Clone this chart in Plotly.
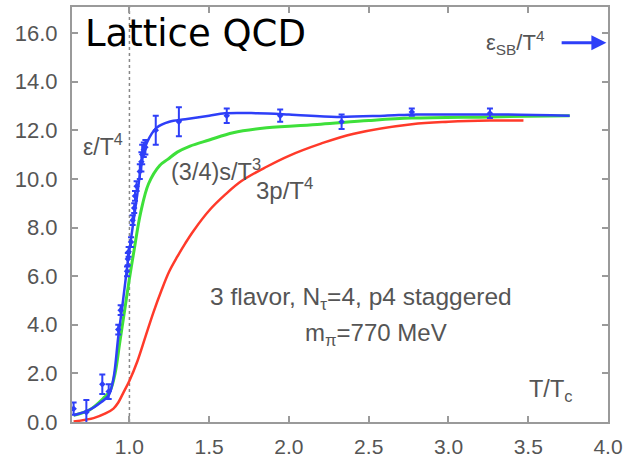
import plotly.graph_objects as go

# epsilon/T^4 data points with errors
eps_x = [0.65, 0.73, 0.83, 0.87, 0.93, 0.945, 0.985, 0.99, 0.995, 1.01, 1.02, 1.03, 1.035,
         1.045, 1.065, 1.075, 1.08, 1.09, 1.10, 1.165, 1.31, 1.61, 1.945, 2.33, 2.77, 3.26]
eps_y = [0.55, 0.40, 1.55, 1.25, 3.8, 4.6, 6.2, 6.7, 7.0, 7.4, 8.3, 8.8, 9.3,
         9.7, 10.3, 10.7, 11.0, 11.2, 11.3, 12.0, 12.35, 12.6, 12.6, 12.35, 12.75, 12.7]
eps_err = [0.25, 0.50, 0.40, 0.30, 0.2, 0.2, 0.2, 0.25, 0.2, 0.2, 0.2, 0.2, 0.2,
           0.2, 0.3, 0.4, 0.4, 0.3, 0.3, 0.6, 0.6, 0.3, 0.25, 0.3, 0.15, 0.2]

# epsilon/T^4 interpolating curve
eps_line_x = [0.65, 0.75, 0.82, 0.87, 0.90, 0.93, 0.96, 0.99, 1.02, 1.05, 1.08, 1.11, 1.17,
              1.25, 1.35, 1.5, 1.6, 1.8, 2.0, 2.3, 2.6, 2.8, 3.0, 3.3, 3.76]
eps_line_y = [0.28, 0.5, 0.8, 1.1, 1.8, 3.5, 5.0, 6.6, 8.0, 9.4, 10.8, 11.5, 12.1,
              12.35, 12.45, 12.6, 12.7, 12.7, 12.65, 12.55, 12.6, 12.65, 12.65, 12.65, 12.6]

# (3/4) s/T^3
s_x = [0.65, 0.75, 0.84, 0.88, 0.91, 0.94, 0.97, 1.0, 1.03, 1.07, 1.12, 1.19, 1.24, 1.3,
       1.38, 1.5, 1.65, 1.86, 2.2, 2.5, 2.77, 3.26, 3.76]
s_y = [0.28, 0.5, 1.0, 1.3, 2.0, 3.3, 4.6, 5.9, 7.1, 8.6, 9.8, 10.55, 10.8, 11.1,
       11.35, 11.6, 11.9, 12.1, 12.25, 12.4, 12.5, 12.55, 12.6]

# 3p/T^4
p_x = [0.65, 0.775, 0.85, 0.9, 0.93, 0.96, 1.0, 1.05, 1.1, 1.15, 1.2, 1.25, 1.3, 1.35, 1.4,
       1.5, 1.6, 1.7, 1.86, 2.0, 2.2, 2.4, 2.77, 3.0, 3.26, 3.47]
p_y = [0.02, 0.16, 0.35, 0.55, 0.8, 1.18, 1.7, 2.5, 3.5, 4.5, 5.4, 6.2, 6.8, 7.35, 7.85,
       8.7, 9.35, 9.9, 10.5, 10.95, 11.45, 11.85, 12.25, 12.35, 12.4, 12.4]

x_ticks = [1.0, 1.5, 2.0, 2.5, 3.0, 3.5, 4.0]
x_tick_labels = ["1.0", "1.5", "2.0", "2.5", "3.0", "3.5", "4.0"]
y_ticks = [0, 2, 4, 6, 8, 10, 12, 14, 16]
y_tick_labels = ["0.0", "2.0", "4.0", "6.0", "8.0", "10.0", "12.0", "14.0", "16.0"]

BLUE = "#2e3ff8"
GREEN = "#3ee03a"
RED = "#ff3a2a"
GRAY_TXT = "#555555"
AX = "#9a9a9a"
FONT = "Liberation Sans, Arial, sans-serif"

fig = go.Figure()
fig.add_trace(go.Scatter(x=p_x, y=p_y, mode="lines", line=dict(color=RED, width=2.5, shape="spline"),
                         showlegend=False))
fig.add_trace(go.Scatter(x=s_x, y=s_y, mode="lines", line=dict(color=GREEN, width=3, shape="spline"),
                         showlegend=False))
fig.add_trace(go.Scatter(x=eps_line_x, y=eps_line_y, mode="lines",
                         line=dict(color=BLUE, width=2.5, shape="spline"), showlegend=False))
fig.add_trace(go.Scatter(x=eps_x, y=eps_y, mode="markers",
                         marker=dict(color=BLUE, size=5, symbol="diamond"),
                         error_y=dict(type="data", array=eps_err, color=BLUE, thickness=2, width=3),
                         showlegend=False))

fig.add_shape(type="line", x0=1.0, x1=1.0, y0=0, y1=1, yref="paper", xref="x",
              line=dict(color="#888888", width=1.5, dash="dot"), layer="below")


def ann(text, x, y, size=24):
    fig.add_annotation(text=text, x=x, y=y, xref="x", yref="y", showarrow=False,
                       xanchor="left", yanchor="middle",
                       font=dict(family=FONT, size=size, color=GRAY_TXT))


ann("ε/T<sup>4</sup>", 0.695, 11.4, size=23)
ann("(3/4)s/T<sup>3</sup>", 1.245, 10.35, size=23.5)
ann("3p/T<sup>4</sup>", 1.78, 9.6, size=24)
ann("3 flavor, N<sub>τ</sub>=4, p4 staggered", 1.49, 5.1, size=24.5)
ann("m<sub>π</sub>=770 MeV", 2.09, 3.6, size=24)
ann("T/T<sub>c</sub>", 3.49, 1.3, size=23.5)
ann("ε<sub>SB</sub>/T<sup>4</sup>", 3.225, 15.6, size=22)

fig.add_annotation(x=3.99, y=15.6, ax=3.70, ay=15.6, xref="x", yref="y", axref="x", ayref="y",
                   showarrow=True, arrowhead=2, arrowsize=1, arrowwidth=3, arrowcolor=BLUE, text="")

fig.add_annotation(text="Lattice QCD", xref="paper", yref="paper", x=0.02, y=0.937,
                   xanchor="left", yanchor="middle", showarrow=False,
                   font=dict(family="DejaVu Sans, Open Sans, sans-serif", size=37, color="#000000"))

axis_common = dict(showline=True, linecolor=AX, linewidth=2, mirror="ticks", ticks="inside",
                   ticklen=6, tickwidth=1.5, tickcolor=AX, showgrid=False, zeroline=False,
                   automargin=False)

fig.update_layout(
    width=628, height=459,
    margin=dict(l=72, r=20, t=7, b=37),
    paper_bgcolor="white", plot_bgcolor="white",
    xaxis=dict(range=[0.64, 4.0], tickvals=x_ticks, ticktext=x_tick_labels,
               ticklabelstandoff=5, tickfont=dict(family=FONT, size=21, color=GRAY_TXT),
               **axis_common),
    yaxis=dict(range=[0, 17.07], tickvals=y_ticks, ticktext=y_tick_labels,
               ticklabelstandoff=8, tickfont=dict(family=FONT, size=22, color=GRAY_TXT),
               **axis_common),
)

fig.write_html("out.html")
